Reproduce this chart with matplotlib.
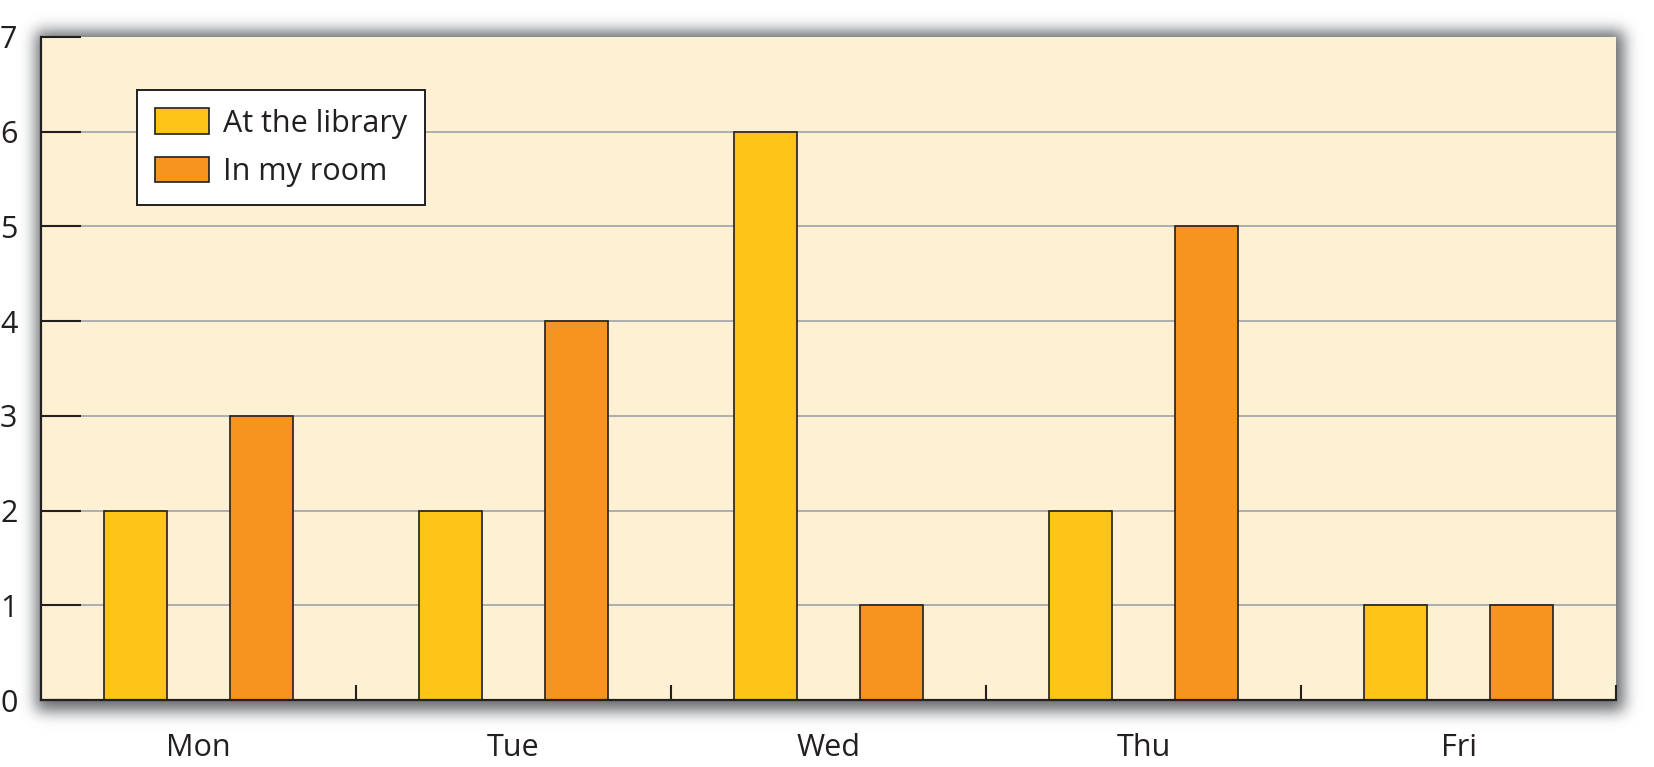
import math
import numpy as np
import matplotlib
matplotlib.use('Agg')
import matplotlib.pyplot as plt

days = ['Mon', 'Tue', 'Wed', 'Thu', 'Fri']
library = [2, 2, 6, 2, 1]
room = [3, 4, 1, 5, 1]
yticks = [0, 1, 2, 3, 4, 5, 6, 7]

plt.rcParams['font.family'] = ['Open Sans', 'DejaVu Sans']
dark = '#231F20'

W, H = 1654, 767
fig = plt.figure(figsize=(W / 100, H / 100), dpi=100)

# axes box in pixels
left, right, top, bottom = 41, 1616, 37, 700
ax_rect = [left / W, 1 - bottom / H, (right - left) / W, (bottom - top) / H]

# soft drop shadow behind the plot area
erf = np.vectorize(math.erf)
s = 7.5
xs = np.arange(W) + 0.5
ys = np.arange(H) + 0.5
sx = 0.5 * (erf((right + 8 - xs) / (s * 1.414)) - erf((left - 5 - xs) / (s * 1.414)))
sy = 0.5 * (erf((bottom + 11 - ys) / (s * 1.414)) - erf((top - 6 - ys) / (s * 1.414)))
alpha = np.outer(sy, sx) * 0.9
img = np.zeros((H, W, 4))
img[..., :3] = np.array([0.34, 0.35, 0.37])
img[..., 3] = alpha
sh = fig.add_axes([0, 0, 1, 1], zorder=0)
sh.imshow(img, extent=(0, W, H, 0), interpolation='bilinear')
sh.set_xlim(0, W)
sh.set_ylim(H, 0)
sh.axis('off')

ax = fig.add_axes(ax_rect, zorder=1)
ax.set_facecolor('#FEF0D2')

x = np.arange(len(days))
ax.bar(x - 0.2, library, 0.2, color='#FEC418', edgecolor=dark, linewidth=1.2,
       label='At the library', zorder=3)
ax.bar(x + 0.2, room, 0.2, color='#F7941F', edgecolor=dark, linewidth=1.2,
       label='In my room', zorder=3)

for v in yticks[1:-1]:
    ax.axhline(v, color='#A7A9AC', linewidth=1.3, zorder=1)

ax.set_xlim(-0.5, 4.5)
ax.set_ylim(0, 7)
ax.set_yticks(yticks)
ax.tick_params(axis='y', direction='in', length=29, width=1.5, color=dark,
               pad=17, labelsize=22, labelcolor=dark)

ax.set_xticks(x + 0.5)
ax.set_xticklabels([])
ax.set_xticks(x, minor=True)
ax.set_xticklabels(days, minor=True)
ax.tick_params(axis='x', which='major', direction='in', length=11, width=1.5, color=dark)
ax.tick_params(axis='x', which='minor', length=0, pad=24, labelsize=22, labelcolor=dark)

for side in ['top', 'right']:
    ax.spines[side].set_visible(False)
for side in ['left', 'bottom']:
    ax.spines[side].set_linewidth(1.6)
    ax.spines[side].set_color(dark)
    ax.spines[side].set_zorder(4)

leg = ax.legend(loc='upper left', bbox_to_anchor=(0.061, 0.92), fontsize=22,
                frameon=True, fancybox=False, borderaxespad=0, borderpad=0.6,
                handlelength=1.75, handleheight=0.9, handletextpad=0.45,
                labelspacing=0.6, labelcolor=dark)
leg.get_frame().set_edgecolor(dark)
leg.get_frame().set_linewidth(1.4)
leg.get_frame().set_alpha(None)
leg.get_frame().set_facecolor('white')
leg.set_zorder(5)

fig.savefig('out.png', dpi=100)
